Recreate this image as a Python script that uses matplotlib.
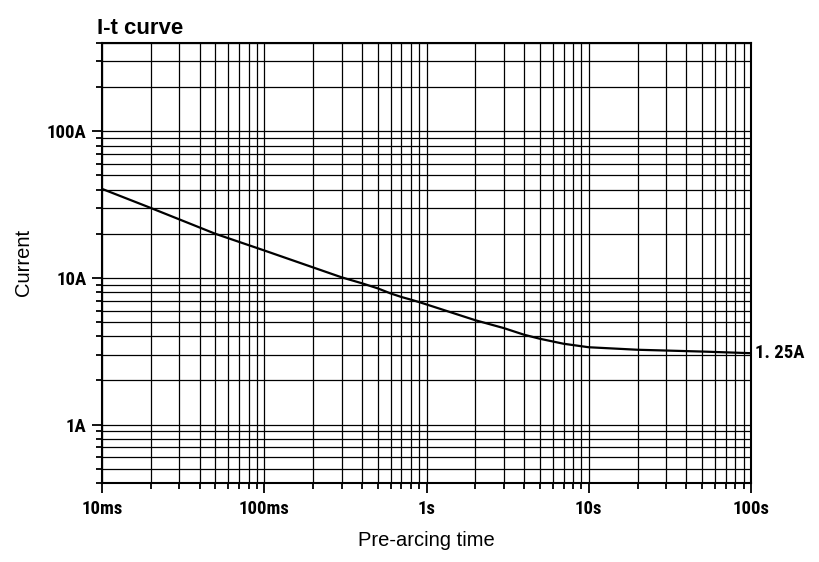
import matplotlib
matplotlib.use("Agg")
import matplotlib.pyplot as plt
from matplotlib import font_manager as fm
from matplotlib.ticker import LogLocator, FixedLocator, FixedFormatter, NullFormatter

# Data
time_s = [0.01, 0.02, 0.05, 0.1, 0.2, 0.3, 0.4, 0.5, 0.6, 0.7, 0.8, 0.9, 1,
          2, 3, 4, 5, 7, 10, 20, 30, 50, 100]
current_a = [40.5, 30, 20, 15.4, 11.8, 10.1, 9.2, 8.5, 7.85, 7.42, 7.12, 6.85, 6.6,
             5.15, 4.55, 4.1, 3.85, 3.56, 3.37, 3.24, 3.2, 3.15, 3.07]

x_ticks = [0.01, 0.1, 1, 10, 100]
x_labels = ["10ms", "100ms", "1s", "10s", "100s"]
y_ticks = [1, 10, 100]
y_labels = ["1A", "10A", "100A"]
rating_label = "1. 25A"

W, H = 819, 562
fig = plt.figure(figsize=(W / 100, H / 100), dpi=100)
L, R, T, B = 102, 751, 43, 483
ax = fig.add_axes([L / W, 1 - B / H, (R - L) / W, (B - T) / H])

tick_fp = fm.FontProperties(family=["Roboto Condensed", "Fira Sans Condensed", "DejaVu Sans"],
                            weight="bold", size=13.5)
text_font = ["Liberation Sans", "DejaVu Sans"]

ax.plot(time_s, current_a, color="black", lw=1.6, zorder=3)
ax.set_xscale("log")
ax.set_yscale("log")
ax.set_xlim(0.01, 100)
ax.set_ylim(0.4, 400)

ax.xaxis.set_major_locator(FixedLocator(x_ticks))
ax.xaxis.set_major_formatter(FixedFormatter(x_labels))
ax.yaxis.set_major_locator(FixedLocator(y_ticks))
ax.yaxis.set_major_formatter(FixedFormatter(y_labels))
ax.xaxis.set_minor_locator(LogLocator(base=10, subs=range(2, 10), numticks=20))
ax.yaxis.set_minor_locator(LogLocator(base=10, subs=range(2, 10), numticks=20))
ax.xaxis.set_minor_formatter(NullFormatter())
ax.yaxis.set_minor_formatter(NullFormatter())

ax.grid(True, which="both", color="black", lw=0.9)
ax.set_axisbelow(True)
ax.tick_params(which="major", direction="out", length=7, width=1.3, color="black", pad=4)
ax.tick_params(which="minor", direction="out", length=4, width=1.3, color="black")
ax.tick_params(axis="x", which="major", pad=5)
for lab in ax.get_xticklabels() + ax.get_yticklabels():
    lab.set_fontproperties(tick_fp)
for s in ax.spines.values():
    s.set_linewidth(1.5)
    s.set_color("black")

ax.text(1.006, current_a[-1], rating_label, transform=ax.get_yaxis_transform(),
        ha="left", va="center", fontproperties=tick_fp)

fig.text(97 / W, 1 - 34 / H, "I-t curve", family=text_font, weight="bold", size=16,
         ha="left", va="baseline")
fig.text(23 / W, 1 - 262 / H, "Current", family=text_font, size=14.5,
         rotation=90, ha="center", va="center")
fig.text(426 / W, 1 - 541 / H, "Pre-arcing time", family=text_font, size=14.5,
         ha="center", va="center")

fig.savefig("out.png", dpi=100)
